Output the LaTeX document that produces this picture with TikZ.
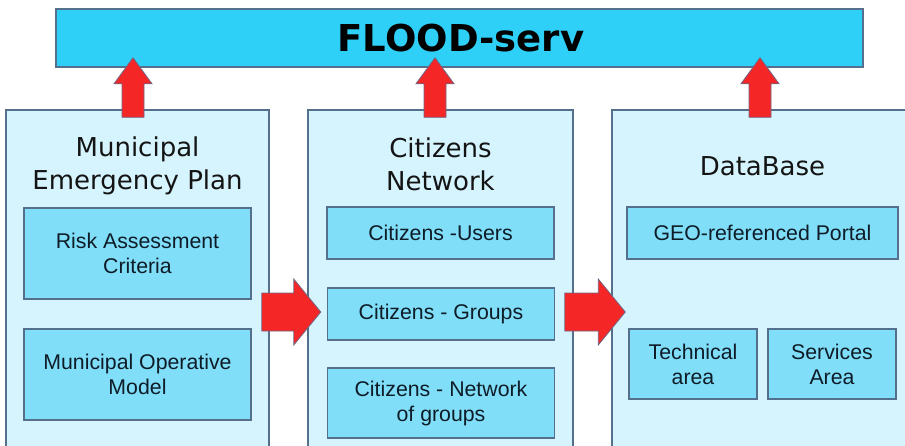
\documentclass[tikz,border=0pt]{standalone}
\usepackage{fontspec}
\setmainfont{DejaVu Sans}
\newfontfamily\boxfont{Liberation Sans}
\usetikzlibrary{calc}

\definecolor{barfill}{RGB}{47,208,247}
\definecolor{panelfill}{RGB}{214,244,253}
\definecolor{itemfill}{RGB}{128,222,248}
\definecolor{edge}{RGB}{84,112,140}
\definecolor{arrowred}{RGB}{245,38,38}
\definecolor{arrowedge}{RGB}{112,100,132}
\definecolor{ink}{RGB}{20,20,20}
\definecolor{itemink}{RGB}{14,28,40}

\tikzset{
  topbar/.style={draw=edge, line width=1.5pt, fill=barfill, inner sep=0pt,
    minimum width=807pt, minimum height=58pt, text=black,
    font=\fontsize{37}{40}\selectfont\bfseries},
  panel/.style={draw=edge, line width=1.5pt, fill=panelfill, inner sep=0pt,
    minimum height=360pt},
  paneltitle/.style={align=center, text=ink, inner sep=0pt,
    font=\fontsize{26}{33}\selectfont},
  item/.style={draw=edge, line width=1.5pt, fill=itemfill, inner sep=0pt,
    align=center, text=itemink, font=\boxfont\fontsize{21.3}{25}\selectfont},
  blockarrow/.style={fill=arrowred, draw=arrowedge, line width=0.8pt, line join=miter}
}

% vertical block arrow: #1 = tail point, #2 = tip point
\newcommand{\upblock}[2]{%
  \filldraw[blockarrow] let \p1=(#1), \p2=(#2) in
    (\x1-11pt,\y1) -- (\x1-11pt,\y2-26pt) -- (\x1-19pt,\y2-26pt) -- (\x1,\y2)
    -- (\x1+19pt,\y2-26pt) -- (\x1+11pt,\y2-26pt) -- (\x1+11pt,\y1) -- cycle;}
% horizontal block arrow: #1 = tail point, #2 = tip point
\newcommand{\rightblock}[2]{%
  \filldraw[blockarrow] let \p1=(#1), \p2=(#2) in
    (\x1,\y1-19pt) -- (\x2-27pt,\y1-19pt) -- (\x2-27pt,\y1-33pt) -- (\x2,\y1)
    -- (\x2-27pt,\y1+33pt) -- (\x2-27pt,\y1+19pt) -- (\x1,\y1+19pt) -- cycle;}

\begin{document}
\begin{tikzpicture}[x=1pt, y=-1pt]
  \useasboundingbox (0,0) rectangle (905,445);
  \clip (0,0) rectangle (905,445);

  % three columns
  \node[panel, minimum width=263pt] (plan) at (137.5,290) {};
  \node[panel, minimum width=265pt] (net)  at (440.5,290) {};
  \node[panel, minimum width=300pt] (db)   at (762,290) {};

  % service bar
  \node[topbar] (serv) at (459.5,38) {\hspace{3pt}FLOOD-serv};

  % column titles
  \node[paneltitle] (planT) at ([yshift=-57pt]plan.north) {Municipal\\Emergency Plan};
  \node[paneltitle] (netT)  at ([yshift=-55pt]net.north) {Citizens\\Network};

  % column contents
  \node[item, minimum width=227pt, minimum height=91pt] (risk)  at (137.5,253.5) {Risk Assessment\\Criteria};
  \node[item, minimum width=227pt, minimum height=91pt] (model) at (137.5,374.5) {Municipal Operative\\Model};

  \node[item, minimum width=227pt, minimum height=52pt] (users)   at (440.5,233) {Citizens -Users};
  \node[item, minimum width=227pt, minimum height=52pt] (groups)  at (441,314)   {Citizens - Groups};
  \node[item, minimum width=227pt, minimum height=70pt] (ngroups) at (441,403)   {Citizens - Network\\of groups};

  \node[item, minimum width=271pt, minimum height=52pt] (geo)  at (762.5,233) {GEO-referenced Portal};
  \node[item, minimum width=128pt, minimum height=70pt] (tech) at (693,364)   {Technical\\area};
  \node[item, minimum width=128pt, minimum height=70pt] (srv)  at (832,364)   {Services\\Area};
  \node[paneltitle] (dbT) at ([yshift=40pt]geo.north) {DataBase};

  % arrows up to the service bar
  \coordinate (u1s) at ([xshift=-4.5pt,yshift=-8pt]plan.north);
  \coordinate (u2s) at ([xshift=-5.5pt,yshift=-8pt]net.north);
  \coordinate (u3s) at ([xshift=-2pt,yshift=-8pt]db.north);
  \coordinate (u1t) at ($(u1s |- serv.south)+(0,-10)$);
  \coordinate (u2t) at ($(u2s |- serv.south)+(0,-10)$);
  \coordinate (u3t) at ($(u3s |- serv.south)+(0,-10)$);
  \upblock{u1s}{u1t}
  \upblock{u2s}{u2t}
  \upblock{u3s}{u3t}

  % arrows between columns
  \coordinate (r1s) at ($(plan.east |- groups.west)+(-8,-2)$);
  \coordinate (r1t) at ($(groups.west)+(-6,-2)$);
  \coordinate (r2s) at ($(net.east |- groups.west)+(-9,-2)$);
  \coordinate (r2t) at ($(tech.west |- groups.west)+(-3,-2)$);
  \rightblock{r1s}{r1t}
  \rightblock{r2s}{r2t}
\end{tikzpicture}
\end{document}
